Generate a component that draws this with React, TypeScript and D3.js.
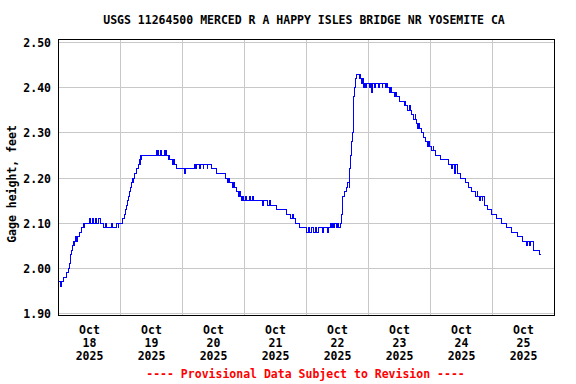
import React from 'react'
import * as d3 from 'd3'

const stationTitle = 'USGS 11264500 MERCED R A HAPPY ISLES BRIDGE NR YOSEMITE CA'
const yAxisTitle = 'Gage height, feet'
const footNote = '---- Provisional Data Subject to Revision ----'

const monthLabel = 'Oct'
const yearLabel = '2025'
const dayLabels = ['18', '19', '20', '21', '22', '23', '24', '25']
const yTicks = [1.9, 2.0, 2.1, 2.2, 2.3, 2.4, 2.5]

// hours since Oct 18 00:00; each value holds until the next entry
const hours = [
  0, 0.7, 1.0, 1.8, 3.2, 3.7, 4.2, 4.5, 5.0, 5.4, 5.8, 6.1, 6.3, 6.6, 7.0, 7.3, 8.0, 9.0, 9.5, 9.8,
  10.1, 12.0, 12.3, 13.2, 13.5, 14.4, 14.7, 15.4, 16.2, 17.4, 18.3, 18.6, 20.5, 20.8, 22.6, 23.1, 23.4, 24.8,
  25.4, 25.8, 26.2, 26.6, 27.0, 27.4, 27.8, 28.2, 28.7, 29.0, 29.2, 29.6, 30.0, 30.8, 31.2, 31.5, 31.7, 32.0, 32.3,
  38.0, 38.3, 38.6, 38.9, 39.4, 39.7, 41.0, 41.3, 41.6, 41.9, 42.4, 42.7, 43.0, 44.0, 44.6, 44.9, 45.6,
  48.8, 49.2, 52.5, 53.0, 53.3, 54.5, 54.8, 56.0, 56.3, 57.5, 57.8, 59.4,
  61.0, 64.5, 65.6, 65.9, 66.3, 67.4, 67.8, 68.1, 68.8, 69.6, 70.0, 70.3, 71.0, 71.4, 71.7, 72.4, 72.7,
  74.0, 74.3, 75.2, 75.5, 79.0, 79.3, 80.9, 81.8, 82.0, 84.5, 88.4, 89.7, 90.5, 90.8, 91.6, 93.2,
  96.1, 96.8, 97.3, 98.0, 98.6, 99.4, 100.0, 100.5, 102.0, 102.5, 104.0, 104.4, 105.2, 105.5, 106.0, 106.5,
  107.0, 107.6, 108.0, 108.3,
  109.0, 109.4, 109.8, 110.9, 111.3, 111.7, 112.5, 112.7, 113.0, 113.4, 113.8, 114.1, 114.3, 114.6, 114.9, 115.3,
  116.4, 116.7, 116.9, 117.3, 117.6, 117.9, 118.4, 119.0, 119.4, 120.3, 120.6, 121.2, 121.5, 122.5, 122.8,
  124.0, 124.3, 125.3, 125.6, 126.4, 126.8, 127.4, 128.2, 128.6, 129.0, 130.0, 130.6, 130.9, 132.0, 133.8,
  134.2, 134.5, 135.2, 135.8, 136.1, 136.6, 137.5, 138.0, 138.3, 138.6, 139.0, 139.4, 139.7, 140.7, 141.3,
  142.0, 143.0, 143.3, 143.6, 144.5, 145.0, 145.3, 146.0, 147.8, 151.0, 152.3, 152.6, 153.2, 153.5, 154.3,
  155.5, 157.4, 158.7, 160.0, 161.5, 162.0, 162.3, 162.8, 163.5, 164.0, 164.3, 165.0, 166.0, 167.8, 169.5,
  171.3, 173.5, 175.5, 177.5, 179.5, 181.3, 181.6, 182.2, 182.6, 183.9, 186.2, 186.6
]

const gageHeight = [
  1.97, 1.96, 1.97, 1.98, 1.99, 2.00, 2.01, 2.03, 2.04, 2.05, 2.06, 2.05, 2.06, 2.07, 2.06, 2.07, 2.08, 2.09, 2.10, 2.09,
  2.10, 2.11, 2.10, 2.11, 2.10, 2.11, 2.10, 2.11, 2.10, 2.09, 2.10, 2.09, 2.10, 2.09, 2.10, 2.09, 2.10, 2.11,
  2.12, 2.13, 2.14, 2.15, 2.16, 2.17, 2.18, 2.19, 2.20, 2.19, 2.20, 2.21, 2.22, 2.23, 2.24, 2.23, 2.25, 2.24, 2.25,
  2.26, 2.25, 2.26, 2.25, 2.26, 2.25, 2.26, 2.25, 2.26, 2.25, 2.24, 2.25, 2.24, 2.23, 2.24, 2.23, 2.22,
  2.21, 2.22, 2.23, 2.22, 2.23, 2.22, 2.23, 2.22, 2.23, 2.22, 2.23, 2.22,
  2.21, 2.20, 2.19, 2.20, 2.19, 2.18, 2.19, 2.18, 2.17, 2.16, 2.17, 2.16, 2.15, 2.16, 2.15, 2.16, 2.15,
  2.16, 2.15, 2.16, 2.15, 2.14, 2.15, 2.14, 2.15, 2.14, 2.13, 2.12, 2.11, 2.12, 2.11, 2.10, 2.09,
  2.08, 2.09, 2.08, 2.09, 2.08, 2.09, 2.08, 2.09, 2.08, 2.09, 2.08, 2.09, 2.10, 2.09, 2.10, 2.09,
  2.10, 2.09, 2.10, 2.09,
  2.10, 2.12, 2.16, 2.17, 2.18, 2.19, 2.18, 2.22, 2.25, 2.28, 2.30, 2.34, 2.38, 2.40, 2.42, 2.43,
  2.42, 2.43, 2.42, 2.41, 2.42, 2.40, 2.41, 2.40, 2.41, 2.40, 2.41, 2.39, 2.41, 2.40, 2.41,
  2.40, 2.41, 2.40, 2.41, 2.40, 2.41, 2.40, 2.39, 2.40, 2.39, 2.38, 2.39, 2.38, 2.37, 2.36,
  2.37, 2.36, 2.35, 2.36, 2.35, 2.34, 2.33, 2.34, 2.33, 2.32, 2.31, 2.32, 2.31, 2.30, 2.29,
  2.28, 2.27, 2.28, 2.27, 2.26, 2.27, 2.26, 2.25, 2.24, 2.23, 2.22, 2.23, 2.21, 2.23, 2.21,
  2.20, 2.19, 2.18, 2.17, 2.16, 2.17, 2.16, 2.15, 2.16, 2.15, 2.16, 2.14, 2.13, 2.12, 2.11,
  2.10, 2.09, 2.08, 2.07, 2.06, 2.05, 2.06, 2.05, 2.06, 2.04, 2.03, 2.03
]

const font = '"DejaVu Sans Mono", "Liberation Mono", monospace'

export default function App() {
  const width = 576
  const height = 384
  const frame = { left: 58.5, right: 554.5, top: 39.5, bottom: 315.5 }

  const x = d3.scaleLinear().domain([0, 192]).range([frame.left, frame.right])
  const y = d3.scaleLinear().domain([1.9, 2.5]).range([313.5, 42.5])

  const points: [number, number][] = hours.map((h, i) => [h, gageHeight[i]])
  const line = d3.line<[number, number]>()
    .x(d => x(d[0]))
    .y(d => y(d[1]))
    .curve(d3.curveStepAfter)

  const dayLines = d3.range(24, 192, 24)

  return (
    <svg width={width} height={height} style={{ position: 'absolute', left: 0, top: 0, background: '#fff' }}
      fontFamily={font} fontWeight="bold" fontSize={11.5}>
      <rect x={0} y={0} width={width} height={height} fill="#fff" />
      <text x={304} y={24} textAnchor="middle" fill="#000">{stationTitle}</text>

      {yTicks.map(t => (
        <line key={'gy' + t} x1={frame.left} x2={frame.right} y1={y(t)} y2={y(t)}
          stroke="#c8c8c8" strokeWidth={1} shapeRendering="crispEdges" />
      ))}
      {dayLines.map(h => (
        <line key={'gx' + h} x1={x(h)} x2={x(h)} y1={frame.top} y2={frame.bottom}
          stroke="#c8c8c8" strokeWidth={1} shapeRendering="crispEdges" />
      ))}

      <path d={line(points) ?? ''} fill="none" stroke="#0000ff" strokeWidth={1} shapeRendering="crispEdges" />

      <rect x={frame.left} y={frame.top} width={frame.right - frame.left} height={frame.bottom - frame.top}
        fill="none" stroke="#000" strokeWidth={1} shapeRendering="crispEdges" />

      {yTicks.map(t => (
        <text key={'ty' + t} x={51} y={y(t) + 4.5} textAnchor="end" fill="#000">{d3.format('.2f')(t)}</text>
      ))}

      {dayLabels.map((d, i) => {
        const cx = x(i * 24 + 12)
        return (
          <g key={'tx' + d} fill="#000" textAnchor="middle">
            <text x={cx} y={333.5}>{monthLabel}</text>
            <text x={cx} y={346.8}>{d}</text>
            <text x={cx} y={360}>{yearLabel}</text>
          </g>
        )
      })}

      <text transform="translate(15.5,184) rotate(-90)" textAnchor="middle" fill="#000">{yAxisTitle}</text>
      <text x={305.5} y={378} textAnchor="middle" fill="#ff0000">{footNote}</text>
    </svg>
  )
}
